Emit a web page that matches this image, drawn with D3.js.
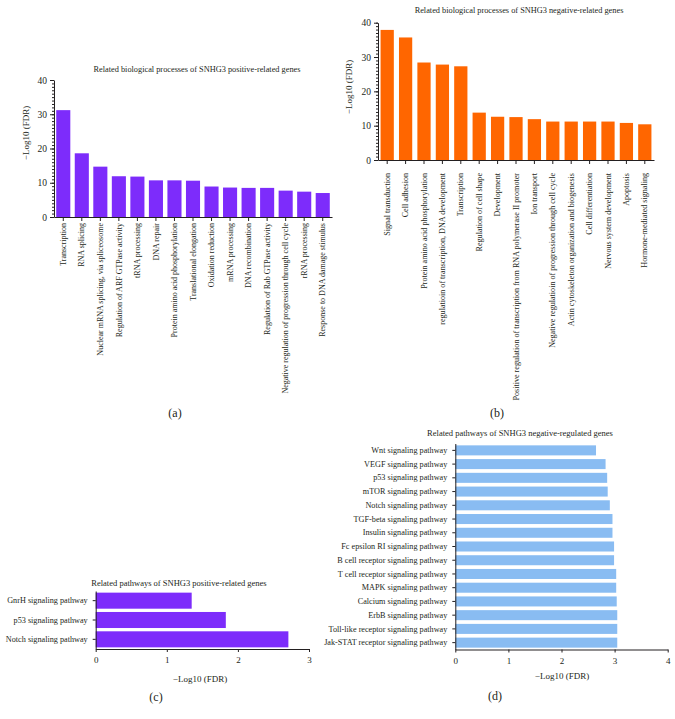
<!DOCTYPE html>
<html><head><meta charset="utf-8">
<script src="https://cdn.jsdelivr.net/npm/d3@7"></script>
<style>
body{margin:0;background:#fff;}
svg text{font-family:"Liberation Serif","DejaVu Serif",serif;fill:#231f20;}
.domain,.tick line{stroke:#231f20;}
</style></head>
<body><svg id="c" width="675" height="719"></svg>
<script>
// Panel (a)
const catsA = ["Transcription","RNA splicing","Nuclear mRNA splicing, via spliceosome","Regulation of ARF GTPase activity","tRNA processing","DNA repair","Protein amino acid phosphorylation","Translational elongation","Oxidation reduction","mRNA processing","DNA recombination","Regulation of Rab GTPase activity","Negative regulation of progression through cell cycle","rRNA processing","Response to DNA damage stimulus"];
const valsA = [31.2,18.6,14.7,11.9,11.8,10.7,10.7,10.6,8.9,8.6,8.5,8.5,7.7,7.4,7.0];
// Panel (b)
const catsB = ["Signal transduction","Cell adhesion","Protein amino acid phosphorylation","regulatioin of transcription, DNA development","Transcription","Regulation of cell shape","Development","Positive regulation of transcription from RNA polymerase II promoter","Ion transport","Negative regulatioin of progression through cell cycle","Actin cytoskeleton organization and biogenesis","Cell differentiation","Nervous system development","Apoptosis","Hormone-mediated signaling"];
const valsB = [37.9,35.7,28.4,27.8,27.3,13.8,12.6,12.5,11.9,11.2,11.2,11.2,11.2,10.8,10.4];
// Panel (c)
const catsC = ["GnrH signaling pathway","p53 signaling pathway","Notch signaling pathway"];
const valsC = [1.35,1.83,2.71];
// Panel (d)
const catsD = ["Wnt signaling pathway","VEGF signaling pathway","p53 signaling pathway","mTOR signaling pathway","Notch signaling pathway","TGF-beta signaling pathway","Insulin signaling pathway","Fc epsilon RI signaling pathway","B cell receptor signaling pathway","T cell receptor signaling pathway","MAPK signaling pathway","Calcium signaling pathway","ErbB signaling pathway","Toll-like receptor signaling pathway","Jak-STAT receptor signaling pathway"];
const valsD = [2.65,2.83,2.86,2.87,2.91,2.96,2.96,2.99,2.99,3.03,3.03,3.04,3.05,3.05,3.05];
const ticksV = [0,10,20,30,40];
const ticksC = [0,1,2,3];
const ticksD = [0,1,2,3,4];
const titles = ["Related biological processes of SNHG3 positive-related genes","Related biological processes of SNHG3 negative-related genes","Related pathways of SNHG3 positive-related genes","Related pathways of SNHG3 negative-regulated genes"];
const axisLabel = "\u2212Log10 (FDR)";
const panelLabels = ["(a)","(b)","(c)","(d)"];

const svg = d3.select("#c");
const fmt = d3.format("d");

function vbar(o){
  const g = svg.append("g");
  const x = d3.scaleBand().domain(o.cats).range([o.x0,o.x1]).paddingInner(o.pad).paddingOuter(o.pad/2);
  const y = d3.scaleLinear().domain([0,40]).range([o.y0,o.y1]);
  g.selectAll("rect").data(o.vals).join("rect")
    .attr("x",(d,i)=>x(o.cats[i])).attr("width",x.bandwidth())
    .attr("y",d=>y(d)).attr("height",d=>y(0)-y(d))
    .attr("fill",o.color);
  // minor ticks
  g.append("g").attr("transform",`translate(${o.x0},0)`)
    .call(d3.axisLeft(y).tickValues(d3.range(0,41,1)).tickSize(2).tickFormat(""))
    .call(a=>a.select(".domain").remove());
  g.append("g").attr("transform",`translate(${o.x0},0)`)
    .call(d3.axisLeft(y).tickValues(ticksV).tickFormat(fmt).tickSize(4).tickPadding(3).tickSizeOuter(0))
    .call(a=>a.selectAll("text").attr("font-size",9.5));
  const xa = g.append("g").attr("transform",`translate(0,${o.y0})`)
    .call(d3.axisBottom(x).tickSize(4).tickSizeOuter(0));
  xa.selectAll("text").attr("font-size",o.cfs).attr("transform","rotate(-90)")
    .attr("text-anchor","end").attr("x",-o.lo).attr("y",0).attr("dy","0.33em");
  g.append("text").attr("transform",`translate(${o.ylx},${o.yly}) rotate(-90)`)
    .attr("text-anchor","middle").attr("font-size",9).text(axisLabel);
  g.append("text").attr("x",o.tx).attr("y",o.ty).attr("text-anchor","middle").attr("font-size",8.3).text(o.title);
  g.append("text").attr("x",o.px).attr("y",o.py).attr("text-anchor","middle").attr("font-size",12).text(o.plabel);
}

function hbar(o){
  const g = svg.append("g");
  const y = d3.scaleBand().domain(o.cats).range([o.y0,o.y1]).paddingInner(o.pad).paddingOuter(o.pad/2);
  const x = d3.scaleLinear().domain([0,o.max]).range([o.x0,o.x1]);
  g.selectAll("rect").data(o.vals).join("rect")
    .attr("y",(d,i)=>y(o.cats[i])).attr("height",y.bandwidth())
    .attr("x",x(0)).attr("width",d=>x(d)-x(0))
    .attr("fill",o.color);
  g.append("g").attr("transform",`translate(${o.x0},0)`)
    .call(d3.axisLeft(y).tickSize(3).tickPadding(5).tickSizeOuter(0))
    .call(a=>a.selectAll("text").attr("font-size",o.fs));
  g.append("g").attr("transform",`translate(0,${o.y1})`)
    .call(d3.axisBottom(x).tickValues(o.ticks).tickFormat(fmt).tickSize(3).tickPadding(5).tickSizeOuter(0))
    .call(a=>a.selectAll("text").attr("font-size",9));
  g.append("text").attr("x",o.lx).attr("y",o.ly).attr("text-anchor","middle").attr("font-size",9).text(axisLabel);
  g.append("text").attr("x",o.tx).attr("y",o.ty).attr("text-anchor","middle").attr("font-size",8.5).text(o.title);
  g.append("text").attr("x",o.px).attr("y",o.py).attr("text-anchor","middle").attr("font-size",12).text(o.plabel);
}

vbar({cats:catsA,vals:valsA,color:"#7d2cfb",x0:54,x1:332,y0:217,y1:80,pad:0.24,lo:6,cfs:8,
  ylx:29,yly:133,tx:197,ty:72,title:titles[0],px:175,py:417,plabel:panelLabels[0]});
vbar({cats:catsB,vals:valsB,color:"#ff6600",x0:378,x1:654,y0:160,y1:22.7,pad:0.28,lo:13,cfs:8.1,
  ylx:352,yly:87,tx:519,ty:13,title:titles[1],px:497,py:417,plabel:panelLabels[1]});
hbar({cats:catsC,vals:valsC,color:"#7d2cfb",x0:95.7,x1:309,y0:591,y1:649,pad:0.17,max:3,ticks:ticksC,fs:8.2,
  lx:200,ly:682,tx:179,ty:586,title:titles[2],px:156,py:701,plabel:panelLabels[2]});
hbar({cats:catsD,vals:valsD,color:"#89bcf2",x0:455.3,x1:667.7,y0:443.5,y1:649.5,pad:0.27,max:4,ticks:ticksD,fs:8.2,
  lx:562,ly:679,tx:520,ty:435.5,title:titles[3],px:495,py:700,plabel:panelLabels[3]});
</script></body></html>
